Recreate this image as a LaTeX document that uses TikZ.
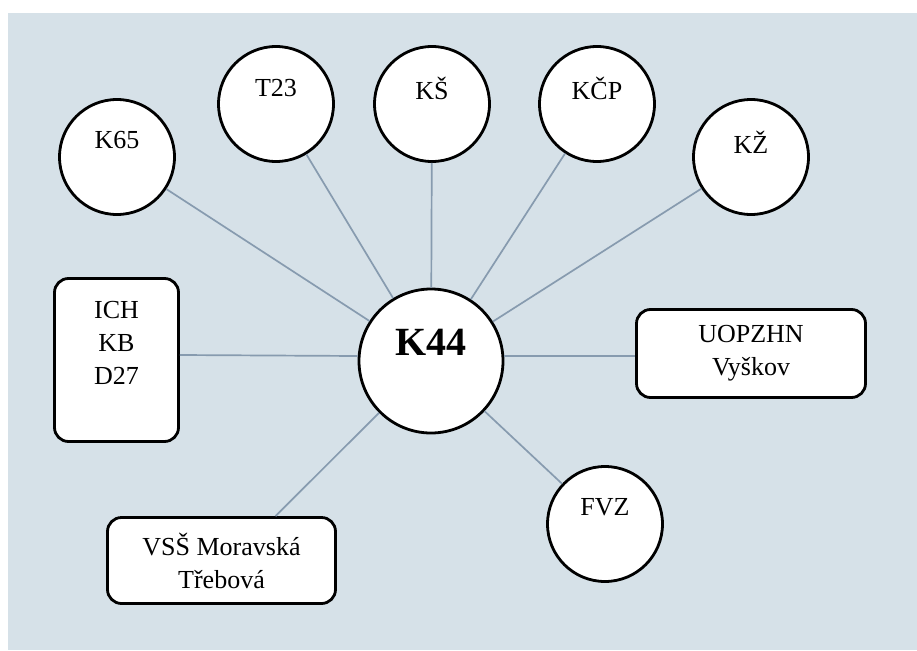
\documentclass[tikz,border=0pt]{standalone}
\usepackage{fontspec}
\setmainfont{Liberation Serif}
\definecolor{bg}{RGB}{214,225,232}
\definecolor{linec}{RGB}{135,155,175}
\begin{document}
\begin{tikzpicture}[x=1pt,y=-1pt,
 circ/.style={circle,draw=black,line width=2.8pt,fill=white,minimum size=115pt,inner sep=0pt},
 bigcirc/.style={circ,minimum size=144pt},
 box/.style={draw=black,line width=2.8pt,fill=white,rounded corners=14pt,inner sep=0pt,align=center,font=\fontsize{26}{33}\selectfont},
 conn/.style={draw=linec,line width=1.7pt},
 lab/.style={font=\fontsize{26}{33}\selectfont,align=center,inner sep=0pt}]
\useasboundingbox (0,0) rectangle (917,650);
\fill[bg] (8,13) rectangle (917,650);
\node[circ,label={[lab,yshift=17pt]center:K65}] (K65) at (117,157) {};
\node[circ,label={[lab,yshift=16pt]center:T23}] (T23) at (276,104) {};
\node[circ,label={[lab,yshift=16pt]center:KŠ}] (KS) at (432,104) {};
\node[circ,label={[lab,yshift=16pt]center:KČP}] (KCP) at (597,104) {};
\node[circ,label={[lab,yshift=15pt]center:KŽ}] (KZ) at (751,157) {};
\node[circ,label={[lab,yshift=17pt]center:FVZ}] (FVZ) at (605,524) {};
\node[bigcirc,label={[lab,font=\fontsize{40}{40}\selectfont\bfseries,yshift=19pt]center:K44}] (K44) at (431,361) {};
\node[box,minimum width=124pt,minimum height=163pt,label={[lab,yshift=17.5pt]center:ICH\\KB\\D27}] (ICH) at (116.5,360) {};
\node[box,minimum width=229pt,minimum height=88pt] (UOP) at (751,353.5) {UOPZHN\\Vyškov};
\node[box,minimum width=228pt,minimum height=86pt] (VSS) at (221.5,560.5) {VSŠ Moravská\\Třebová};
\draw[conn] (K44) -- (K65);
\draw[conn] (K44) -- (T23);
\draw[conn] (K44) -- (KS);
\draw[conn] (K44) -- (KCP);
\draw[conn] (K44) -- (KZ);
\draw[conn] (K44) -- (FVZ);
\draw[conn] ([yshift=5pt]K44.west) -- ([yshift=5pt]ICH.east);
\draw[conn] ([yshift=5pt]K44.east) -- ([yshift=-2.5pt]UOP.west);
\draw[conn] (K44) -- ([xshift=54pt]VSS.north);
\end{tikzpicture}
\end{document}
